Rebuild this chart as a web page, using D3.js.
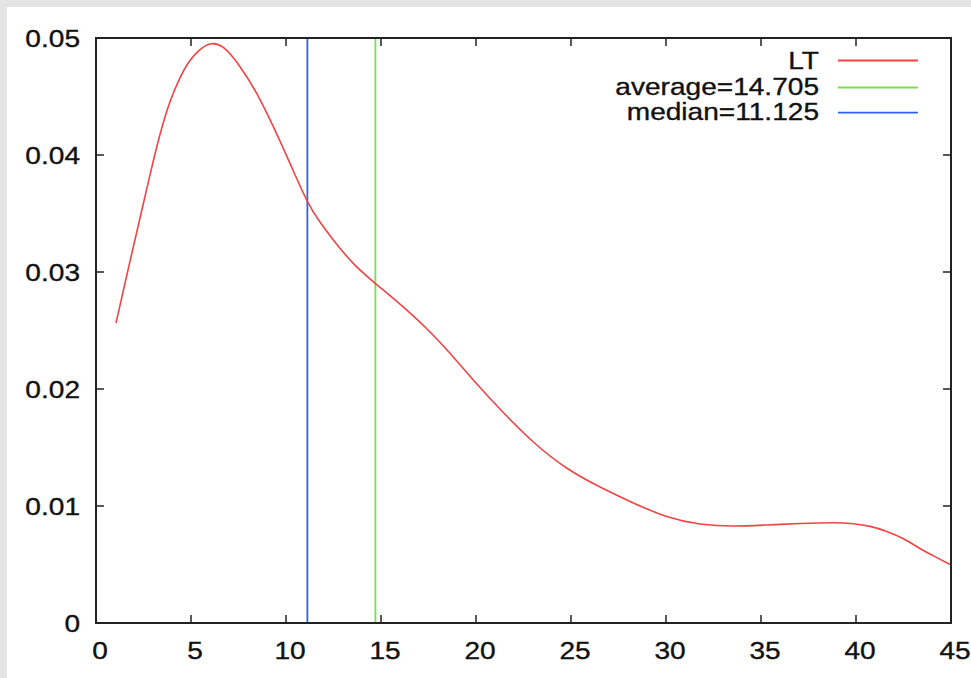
<!DOCTYPE html>
<html>
<head>
<meta charset="utf-8">
<script src="https://cdn.jsdelivr.net/npm/d3@7"></script>
<style>
  html, body { margin: 0; padding: 0; background: #e4e4e4; }
  svg { display: block; }
  text { font-family: "Liberation Sans", Arial, Helvetica, sans-serif; fill: #111; stroke: #111; stroke-width: 0.35px; }
</style>
</head>
<body>
<svg id="chart" width="971" height="678"></svg>
<script>
// ---- data ----
const densityX = [1.053, 1.684, 2.316, 2.842, 3.368, 3.895, 4.421, 4.947, 5.474, 6.0, 6.7, 7.579, 8.458,
  9.332, 10.21, 11.09, 11.79, 12.49, 13.54, 14.74, 16.0, 17.41, 18.63, 19.86, 21.26, 23.02, 24.77,
  26.53, 28.28, 30.04, 31.79, 33.54, 35.3, 37.05, 38.81, 39.86, 40.74, 41.62, 42.47, 43.37, 44.16, 44.95];
const densityY = [0.02564, 0.03017, 0.03462, 0.0383, 0.04175, 0.04455, 0.0466, 0.04808, 0.049, 0.04949,
  0.04919, 0.04755, 0.04527, 0.04242, 0.03929, 0.03615, 0.03427, 0.03274, 0.03074, 0.02897, 0.02725,
  0.02515, 0.02305, 0.02077, 0.01829, 0.01547, 0.01325, 0.01162, 0.01026, 0.0091, 0.00846, 0.00829,
  0.00838, 0.0085, 0.00857, 0.00848, 0.00826, 0.00783, 0.00722, 0.00637, 0.00567, 0.005];
const averageValue = 14.705;
const medianValue = 11.125;
const xTicks = [0, 5, 10, 15, 20, 25, 30, 35, 40, 45];
const yTicks = [0, 0.01, 0.02, 0.03, 0.04, 0.05];
const yTickLabels = ["0", "0.01", "0.02", "0.03", "0.04", "0.05"];
const legendLabels = ["LT", "average=14.705", "median=11.125"];
const seriesColors = ["#f04444", "#78e050", "#2f62f0"];

// ---- layout ----
const svg = d3.select("#chart");
const W = 971, H = 678;
const pLeft = 96, pRight = 951, pTop = 38, pBottom = 623;
const stretch = 1.17;
const fontSize = 24;

svg.append("rect").attr("x", 0).attr("y", 0).attr("width", W).attr("height", H).attr("fill", "#e4e4e4");
svg.append("rect").attr("x", 7).attr("y", 7).attr("width", W - 7).attr("height", H - 7).attr("fill", "#ffffff");

const x = d3.scaleLinear().domain([0, 45]).range([pLeft, pRight]);
const y = d3.scaleLinear().domain([0, 0.05]).range([pBottom, pTop]);

// ticks (inward, mirrored)
const tickLen = 8;
const tg = svg.append("g").attr("stroke", "#222").attr("stroke-width", 1.5);
xTicks.forEach(t => {
  tg.append("line").attr("x1", x(t)).attr("x2", x(t)).attr("y1", pBottom).attr("y2", pBottom - tickLen);
  tg.append("line").attr("x1", x(t)).attr("x2", x(t)).attr("y1", pTop).attr("y2", pTop + tickLen);
});
yTicks.forEach(t => {
  tg.append("line").attr("x1", pLeft).attr("x2", pLeft + tickLen).attr("y1", y(t)).attr("y2", y(t));
  tg.append("line").attr("x1", pRight).attr("x2", pRight - tickLen).attr("y1", y(t)).attr("y2", y(t));
});

// tick labels
function stretchedText(g, tx, ty, str, anchor) {
  g.append("text")
    .attr("transform", `translate(${tx},${ty}) scale(${stretch},1)`)
    .attr("text-anchor", anchor)
    .attr("font-size", fontSize)
    .text(str);
}
const lg = svg.append("g");
xTicks.forEach(t => stretchedText(lg, x(t) + 4, 659, String(t), "middle"));
yTicks.forEach((t, i) => stretchedText(lg, 80, y(t) + 8.5, yTickLabels[i], "end"));

// vertical lines
const vline = (v, color) => svg.append("line")
  .attr("x1", x(v)).attr("x2", x(v)).attr("y1", pTop).attr("y2", pBottom)
  .attr("stroke", color).attr("stroke-width", 1.8);
vline(medianValue, seriesColors[2]);
vline(averageValue, seriesColors[1]);

// density curve
const pts = densityX.map((d, i) => [d, densityY[i]]);
svg.append("path")
  .datum(pts)
  .attr("fill", "none")
  .attr("stroke", seriesColors[0])
  .attr("stroke-width", 1.6)
  .attr("d", d3.line().x(d => x(d[0])).y(d => y(d[1])).curve(d3.curveNatural));

// frame
svg.append("rect").attr("x", pLeft).attr("y", pTop).attr("width", pRight - pLeft).attr("height", pBottom - pTop)
  .attr("fill", "none").attr("stroke", "#222").attr("stroke-width", 2);

// legend
const legBase = [69, 94.5, 120];
const legLineY = [60.5, 87.5, 112.7];
const legG = svg.append("g");
legendLabels.forEach((lab, i) => {
  stretchedText(legG, 819, legBase[i], lab, "end");
  legG.append("line").attr("x1", 838).attr("x2", 918).attr("y1", legLineY[i]).attr("y2", legLineY[i])
    .attr("stroke", seriesColors[i]).attr("stroke-width", 1.8);
});
</script>
</body>
</html>
